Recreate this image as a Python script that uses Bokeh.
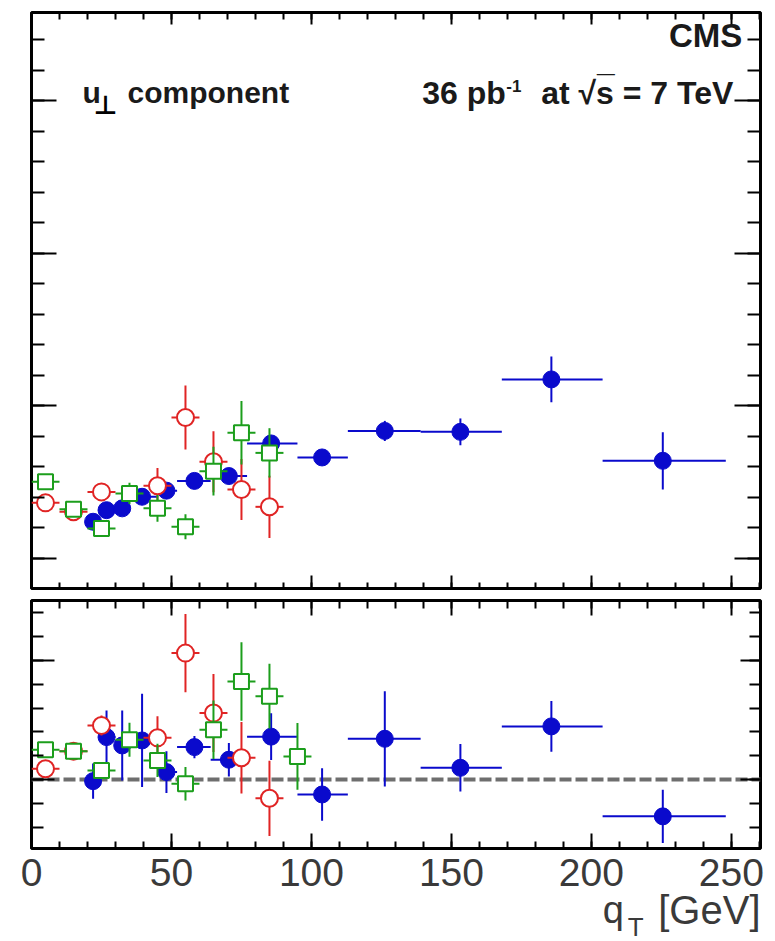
from bokeh.plotting import figure
from bokeh.layouts import column
from bokeh.models import (Range1d, LinearAxis, SingleIntervalTicker, Span, Label,
                          ColumnDataSource, CustomJSTickFormatter)
from bokeh.core.properties import value
from bokeh.embed import file_html
from bokeh.resources import INLINE

# ---------------- data ----------------
# blue filled circles
blue_qt = [22.0, 26.8, 32.4, 39.5, 48.2, 58.2, 70.5, 85.6, 103.8, 126.2, 153.2, 185.7, 225.5]
blue_lo = [20, 24, 30, 35, 45, 52, 64, 77, 95, 113, 139, 168, 204]
blue_hi = [24, 30, 35, 45, 52, 64, 77, 95, 113, 139, 168, 204, 248]
blue_top = [6.19, 6.57, 6.63, 7.01, 7.21, 7.53, 7.69, 8.76, 8.30, 9.17, 9.14, 10.86, 8.19]
blue_top_err = [0.10, 0.10, 0.10, 0.10, 0.10, 0.12, 0.12, 0.25, 0.20, 0.33, 0.44, 0.75, 0.94]
blue_ratio = [0.993, 1.178, 1.143, 1.164, 1.031, 1.136, 1.083, 1.180, 0.937, 1.171, 1.049, 1.223, 0.845]
blue_ratio_err = [0.074, 0.112, 0.147, 0.196, 0.088, 0.047, 0.070, 0.098, 0.110, 0.200, 0.100, 0.107, 0.112]

# red open circles
red_qt = [5, 15, 25, 45, 55, 65, 75, 85]
red_lo = [0, 10, 20, 40, 50, 60, 70, 80]
red_hi = [10, 20, 30, 50, 60, 70, 80, 90]
red_top = [6.81, 6.52, 7.17, 7.37, 9.61, 8.16, 7.25, 6.68]
red_top_err = [0.05, 0.05, 0.15, 0.58, 1.05, 1.00, 1.00, 1.02]
red_ratio = [1.045, 1.119, 1.227, 1.175, 1.531, 1.279, 1.091, 0.921]
red_ratio_err = [0.01, 0.01, 0.042, 0.091, 0.164, 0.164, 0.150, 0.158]

# green open squares
green_qt = [5, 15, 25, 35, 45, 55, 65, 75, 85]
green_lo = [0, 10, 20, 30, 40, 50, 60, 70, 80]
green_hi = [10, 20, 30, 40, 50, 60, 70, 80, 90]
green_top = [7.50, 6.60, 5.97, 7.12, 6.63, 6.03, 7.85, 9.11, 8.45]
green_top_err = [0.05, 0.05, 0.10, 0.35, 0.44, 0.41, 0.80, 1.04, 0.81]
green_ratio_qt = [5, 15, 25, 35, 45, 55, 65, 75, 85, 95]
green_ratio_lo = [0, 10, 20, 30, 40, 50, 60, 70, 80, 90]
green_ratio_hi = [10, 20, 30, 40, 50, 60, 70, 80, 90, 100]
green_ratio = [1.125, 1.119, 1.038, 1.167, 1.080, 0.982, 1.209, 1.412, 1.350, 1.097]
green_ratio_err = [0.01, 0.01, 0.027, 0.071, 0.070, 0.070, 0.123, 0.165, 0.136, 0.140]

# x tick labels
x_tick_values = [0, 50, 100, 150, 200, 250]
x_tick_labels = ["0", "50", "100", "150", "200", "250"]
x_ticks_major = 50
ratio_ref = 1.0

# ---------------- styling ----------------
BLUE = "#0a0acc"
RED = "#e02424"
GREEN = "#1c9e1c"
FONT = "Liberation Sans"
TXT = "#1a1a1a"
AXTXT = "#3a3a3a"

X_RANGE = (0, 260.4)
BORDER_L, BORDER_R, W = 31, 15, 775
PX_PER_X = (W - BORDER_L - BORDER_R) / (X_RANGE[1] - X_RANGE[0])


def make_fig(height, yr, top, bottom):
    p = figure(width=W, height=height, x_range=Range1d(*X_RANGE), y_range=Range1d(*yr),
               output_backend="svg", toolbar_location=None, tools="", title=None,
               min_border_left=BORDER_L, min_border_right=BORDER_R,
               min_border_top=top, min_border_bottom=bottom,
               x_axis_location=None, y_axis_location=None)
    p.grid.visible = False
    p.outline_line_color = "black"
    p.outline_line_width = 3
    p.background_fill_color = "white"
    p.border_fill_color = "white"
    return p


def add_axis(p, side, interval, major_len, minor_len):
    ax = LinearAxis(ticker=SingleIntervalTicker(interval=interval, num_minor_ticks=5))
    ax.axis_line_color = None
    ax.major_tick_in = major_len
    ax.major_tick_out = 0
    ax.minor_tick_in = minor_len
    ax.minor_tick_out = 0
    ax.major_tick_line_width = 2
    ax.minor_tick_line_width = 2
    ax.major_tick_line_color = "black"
    ax.minor_tick_line_color = "black"
    ax.formatter = CustomJSTickFormatter(code="return ''")
    ax.major_label_text_font_size = "1px"
    ax.major_label_standoff = 0
    p.add_layout(ax, side)
    return ax


def draw_series(p, qt, lo, hi, y, err, color, marker, size, filled):
    src = ColumnDataSource(dict(
        x=qt, lo=lo, hi=hi, y=y,
        ylo=[a - b for a, b in zip(y, err)], yhi=[a + b for a, b in zip(y, err)]))
    p.segment(x0="lo", x1="hi", y0="y", y1="y", source=src, line_color=color, line_width=2)
    p.segment(x0="x", x1="x", y0="ylo", y1="yhi", source=src, line_color=color, line_width=2)
    if filled:
        p.scatter(x="x", y="y", source=src, marker=marker, size=size,
                  fill_color=color, line_color=color, line_width=1)
    else:
        p.scatter(x="x", y="y", source=src, marker=marker, size=size,
                  fill_color="white", line_color=color, line_width=2)


def txt(p, x, y, s, size, bold=True, align="left", font=FONT, color=TXT):
    p.add_layout(Label(x=x, y=y, text=s, text_align=align, text_baseline="alphabetic",
                       text_font=font, text_font_style="bold" if bold else "normal",
                       text_font_size=size, text_color=color))


# ---------------- top panel ----------------
top = make_fig(594, (4.0, 22.9), 12, 6)
add_axis(top, "left", 5, 25, 13)
add_axis(top, "right", 5, 26, 13)
add_axis(top, "below", x_ticks_major, 13, 6)
add_axis(top, "above", x_ticks_major, 12, 7)

draw_series(top, blue_qt, blue_lo, blue_hi, blue_top, blue_top_err, BLUE, "circle", 17, True)
draw_series(top, red_qt, red_lo, red_hi, red_top, red_top_err, RED, "circle", 17, False)
draw_series(top, green_qt, green_lo, green_hi, green_top, green_top_err, GREEN, "square", 15, False)

txt(top, 253.9, 22.16, "CMS", "33px", align="right")
txt(top, 18.2, 20.29, "u", "30px")
txt(top, 22.2, 19.86, "\u22a5", "26px", font="DejaVu Sans", color="black")
txt(top, 34.3, 20.29, "component", "30px")
txt(top, 139.6, 20.25, "36 pb", "32px")
txt(top, 169.6, 20.49, "-1", "17px")
txt(top, 250.7, 20.25, "at \u221as = 7 TeV", "32px", align="right")
txt(top, 202.0, 20.45, "\u00af", "32px")

# ---------------- ratio panel ----------------
bot = make_fig(257, (0.71, 1.752), 6, 3)
add_axis(bot, "left", 0.5, 23, 12)
add_axis(bot, "right", 0.5, 20, 11)
add_axis(bot, "below", x_ticks_major, 15, 7)
add_axis(bot, "above", x_ticks_major, 15, 8)

bot.add_layout(Span(location=ratio_ref, dimension="width", line_color="#6e6e6e",
                    line_width=4, line_dash="12 4", level="underlay"))

draw_series(bot, blue_qt, blue_lo, blue_hi, blue_ratio, blue_ratio_err, BLUE, "circle", 17, True)
draw_series(bot, red_qt, red_lo, red_hi, red_ratio, red_ratio_err, RED, "circle", 17, False)
draw_series(bot, green_ratio_qt, green_ratio_lo, green_ratio_hi, green_ratio, green_ratio_err, GREEN, "square", 15, False)

# ---------------- x tick labels and x title strip (same x scale as panels) ----------------
STRIP_H = 941 - 594 - 257
lab = figure(width=W, height=STRIP_H,
             x_range=Range1d(X_RANGE[0] - BORDER_L / PX_PER_X, X_RANGE[1] + BORDER_R / PX_PER_X),
             y_range=Range1d(0, STRIP_H),
             output_backend="svg", toolbar_location=None, tools="", title=None,
             min_border_left=0, min_border_right=0, min_border_top=0, min_border_bottom=0,
             x_axis_location=None, y_axis_location=None)
lab.frame_align = False
lab.grid.visible = False
lab.outline_line_color = None
lab.border_fill_color = "white"
lab.background_fill_color = "white"

tick_src = ColumnDataSource(dict(x=x_tick_values, text=x_tick_labels))
lab.text(x="x", y=69, text="text", source=tick_src, text_align="center", text_baseline="alphabetic",
         text_font=value(FONT), text_font_size="39px", text_color=AXTXT)

txt(lab, 211.6, 32, "q", "38px", bold=False, align="right", color=AXTXT)
txt(lab, 213.0, 14.5, "T", "26px", bold=False, color=AXTXT)
txt(lab, X_RANGE[1], 32, "[GeV]", "40px", bold=False, align="right", color=AXTXT)

layout = column(top, bot, lab, spacing=0)
open("out.html", "w").write(file_html(layout, INLINE))
